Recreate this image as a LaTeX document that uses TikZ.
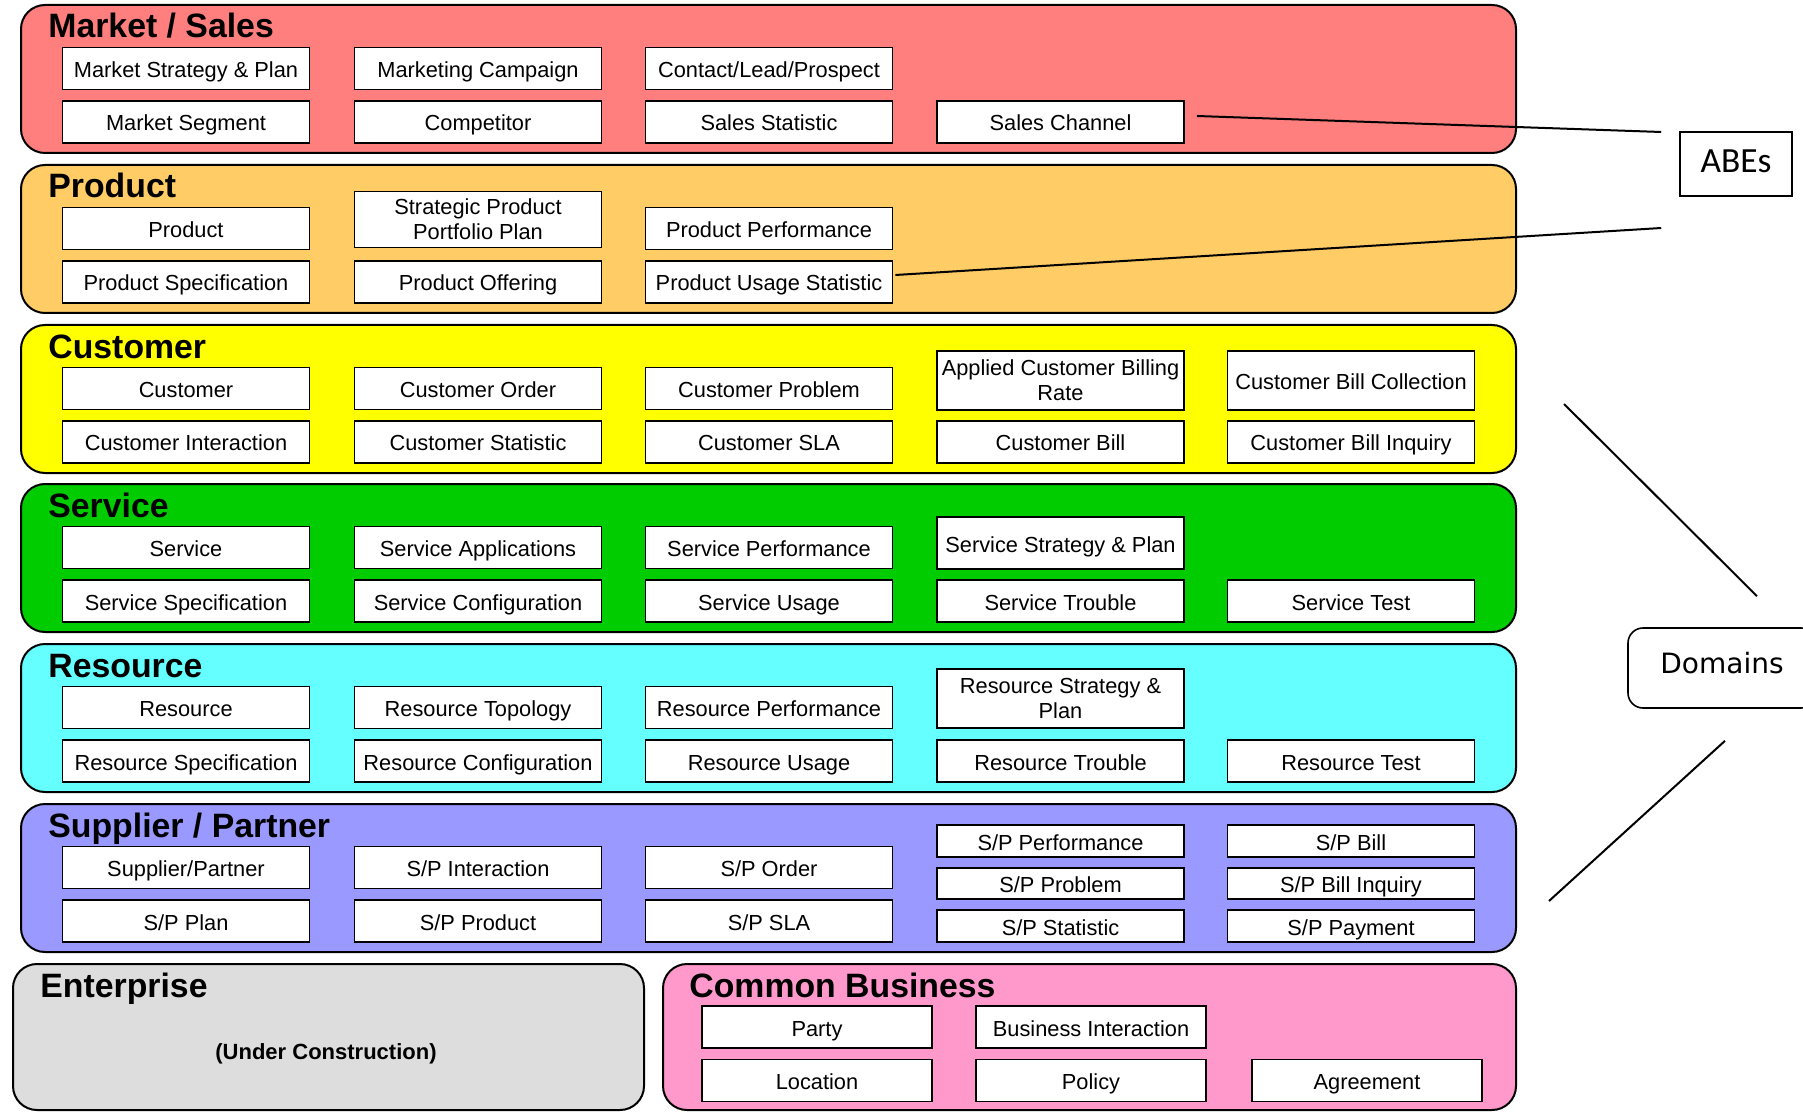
\documentclass[tikz,border=0pt]{standalone}
\usepackage{fontspec}
\setmainfont{Liberation Sans}
\newfontfamily\calloutfont{DejaVu Sans}
\newfontfamily\abesfont{Carlito}
\usetikzlibrary{calc}

\definecolor{salesfill}{HTML}{FF7F7F}
\definecolor{productfill}{HTML}{FFCC66}
\definecolor{customerfill}{HTML}{FFFF00}
\definecolor{servicefill}{HTML}{00CC00}
\definecolor{resourcefill}{HTML}{66FFFF}
\definecolor{partnerfill}{HTML}{9999FF}
\definecolor{enterprisefill}{HTML}{DDDDDD}
\definecolor{commonfill}{HTML}{FF99CC}

\begin{document}
\begin{tikzpicture}[x=0.5pt,y=-0.5pt,
  band/.style={draw=black,line width=1pt,rounded corners=12pt},
  ent/.style={draw=black,fill=white,line width=0.9pt,minimum width=123.5pt,
    minimum height=21pt,inner sep=0pt,align=center,
    text height=0.9em,text depth=0em,
    font=\fontsize{10.9pt}{12.5pt}\selectfont},
  tallent/.style={ent,minimum height=#1},
  twoline/.style={ent,minimum height=#1,text height={},text depth={}},
  spent/.style={ent,minimum height=15.75pt},
  cbent/.style={ent,minimum width=115pt},
  bandtitle/.style={anchor=base west,inner sep=0pt,
    font=\fontsize{16.9pt}{18pt}\selectfont\bfseries},
  callout/.style={draw=black,line width=0.8pt,fill=white,inner sep=0pt},
  link/.style={draw=black,line width=1pt}]

\clip (0,0) rectangle (1803,1112);

% ---- domain bands ----
\path[band,fill=salesfill]    (21,5)   rectangle (1516,153);
\path[band,fill=productfill]  (21,165) rectangle (1516,313);
\path[band,fill=customerfill] (21,325) rectangle (1516,473);
\path[band,fill=servicefill]  (21,484) rectangle (1516,632);
\path[band,fill=resourcefill] (21,644) rectangle (1516,792);
\path[band,fill=partnerfill]  (21,804) rectangle (1516,952);
\path[band,fill=enterprisefill] (13,964) rectangle (644,1110);
\path[band,fill=commonfill]   (663,964) rectangle (1516,1110);

% ---- band titles ----
\node[bandtitle] (tms) at (48,38)   {Market / Sales};
\node[bandtitle] (tpr) at (48,198)  {Product};
\node[bandtitle] (tcu) at (48,358)  {Customer};
\node[bandtitle] (tse) at (48,517)  {Service};
\node[bandtitle] (tre) at (48,677)  {Resource};
\node[bandtitle] (tsp) at (48,837)  {Supplier / Partner};
\node[bandtitle] (ten) at (40,997)  {Enterprise};
\node[bandtitle] (tcb) at (689,997) {Common Business};
\node[font=\fontsize{11pt}{13pt}\selectfont\bfseries] (uc) at (326,1053.5) {(Under Construction)};

% ---- Market / Sales ----
\node[ent] (ms1) at (186,68.5)  {Market Strategy \& Plan};
\node[ent] (ms2) at (478,68.5)  {Marketing Campaign};
\node[ent] (ms3) at (769,68.5)  {Contact/Lead/Prospect};
\node[ent] (ms4) at (186,122)   {Market Segment};
\node[ent] (ms5) at (478,122)   {Competitor};
\node[ent] (ms6) at (769,122)   {Sales Statistic};
\node[ent] (sc)  at (1060.5,122) {Sales Channel};

% ---- Product ----
\node[ent] (pr1) at (186,228.5) {Product};
\node[twoline=28pt] (pr2) at (478,219.5) {Strategic Product\\Portfolio Plan};
\node[ent] (pr3) at (769,228.5) {Product Performance};
\node[ent] (pr4) at (186,282)   {Product Specification};
\node[ent] (pr5) at (478,282)   {Product Offering};
\node[ent] (pus) at (769,282)   {Product Usage Statistic};

% ---- Customer ----
\node[ent] (cu1) at (186,388.5) {Customer};
\node[ent] (cu2) at (478,388.5) {Customer Order};
\node[ent] (cu3) at (769,388.5) {Customer Problem};
\node[twoline=29.5pt] (cu4) at (1060.5,380.5) {Applied Customer Billing\\Rate};
\node[tallent=29.5pt] (cu5) at (1351,380.5) {Customer Bill Collection};
\node[ent] (cu6) at (186,442)   {Customer Interaction};
\node[ent] (cu7) at (478,442)   {Customer Statistic};
\node[ent] (cu8) at (769,442)   {Customer SLA};
\node[ent] (cu9) at (1060.5,442) {Customer Bill};
\node[ent] (cu10) at (1351,442) {Customer Bill Inquiry};

% ---- Service ----
\node[ent] (se1) at (186,547.5) {Service};
\node[ent] (se2) at (478,547.5) {Service Applications};
\node[ent] (se3) at (769,547.5) {Service Performance};
\node[tallent=26pt] (se4) at (1060.5,543) {Service Strategy \& Plan};
\node[ent] (se5) at (186,601)   {Service Specification};
\node[ent] (se6) at (478,601)   {Service Configuration};
\node[ent] (se7) at (769,601)   {Service Usage};
\node[ent] (se8) at (1060.5,601) {Service Trouble};
\node[ent] (se9) at (1351,601)  {Service Test};

% ---- Resource ----
\node[ent] (re1) at (186,707.5) {Resource};
\node[ent] (re2) at (478,707.5) {Resource Topology};
\node[ent] (re3) at (769,707.5) {Resource Performance};
\node[twoline=29.5pt] (re4) at (1060.5,698.5) {Resource Strategy \&\\Plan};
\node[ent] (re5) at (186,761)   {Resource Specification};
\node[ent] (re6) at (478,761)   {Resource Configuration};
\node[ent] (re7) at (769,761)   {Resource Usage};
\node[ent] (re8) at (1060.5,761) {Resource Trouble};
\node[ent] (re9) at (1351,761)  {Resource Test};

% ---- Supplier / Partner ----
\node[ent] (sp1) at (186,867.5) {Supplier/Partner};
\node[ent] (sp2) at (478,867.5) {S/P Interaction};
\node[ent] (sp3) at (769,867.5) {S/P Order};
\node[ent] (sp4) at (186,921)   {S/P Plan};
\node[ent] (sp5) at (478,921)   {S/P Product};
\node[ent] (sp6) at (769,921)   {S/P SLA};
\node[spent] (sp7)  at (1060.5,841)   {S/P Performance};
\node[spent] (sp8)  at (1060.5,883.5) {S/P Problem};
\node[spent] (sp9)  at (1060.5,926)   {S/P Statistic};
\node[spent] (sp10) at (1351,841)     {S/P Bill};
\node[spent] (sp11) at (1351,883.5)   {S/P Bill Inquiry};
\node[spent] (sp12) at (1351,926)     {S/P Payment};

% ---- Common Business ----
\node[cbent] (cb1) at (817,1027)    {Party};
\node[cbent] (cb2) at (1091,1027)   {Business Interaction};
\node[cbent] (cb3) at (817,1080.5)  {Location};
\node[cbent] (cb4) at (1091,1080.5) {Policy};
\node[cbent] (cb5) at (1367,1080.5) {Agreement};

% ---- callouts ----
\node[callout,minimum width=56pt,minimum height=32pt,
      font=\abesfont\fontsize{17.7pt}{20pt}\selectfont,
      text height=0.86em,text depth=0em] (abes) at (1736,164) {ABEs};
\node[callout,rounded corners=7.5pt,minimum width=94pt,minimum height=40pt,
      font=\calloutfont\fontsize{14pt}{16pt}\selectfont,
      text height=0.72em,text depth=0.14em] (dom) at (1722,668) {Domains};

\coordinate (a1s) at ($(sc.east)+(12,-6)$);
\coordinate (a1e) at ($(abes.west)+(-18,-32)$);
\coordinate (a2s) at ($(pus.east)+(2,-7)$);
\coordinate (a2e) at ($(abes.west)+(-18,64)$);
\draw[link] (a1s) -- (a1e);
\draw[link] (a2s) -- (a2e);

\coordinate (d1s) at (1564,404);
\coordinate (d1e) at ($(dom.north)+(35,-31)$);
\coordinate (d2s) at ($(dom.south)+(3,32)$);
\coordinate (d2e) at (1549,901);
\draw[link] (d1s) -- (d1e);
\draw[link] (d2s) -- (d2e);

\end{tikzpicture}
\end{document}
